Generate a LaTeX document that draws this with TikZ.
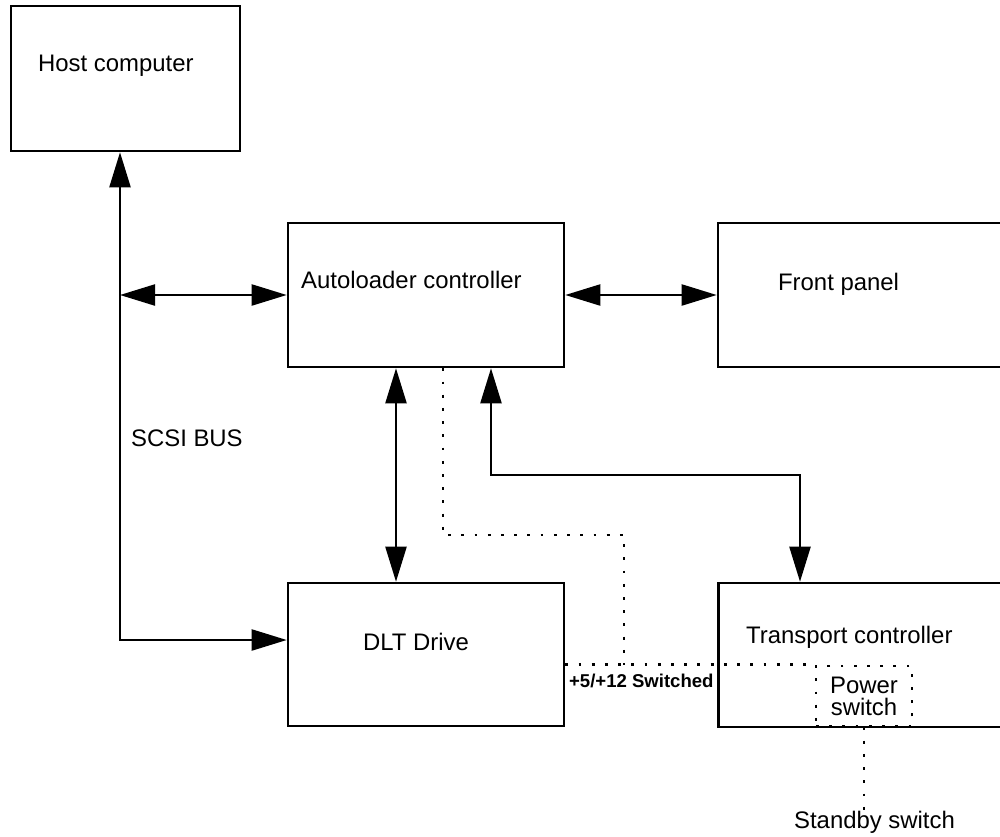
\documentclass[tikz,border=0pt]{standalone}
\usepackage{fontspec}
\setmainfont{Liberation Sans}
\usetikzlibrary{arrows.meta}

\begin{document}
\begin{tikzpicture}[x=0.025cm,y=-0.025cm,line width=1.6pt,
	>={Triangle[length=25pt,width=15pt]},
	block/.style={draw,rectangle,line width=1.8pt,inner sep=0pt},
	txt/.style={anchor=base west,inner sep=0pt,font=\fontsize{17}{19}\selectfont},
	dotline/.style={line width=2.1pt,dash pattern=on 2pt off 7.4pt}]

	\useasboundingbox (0,0) rectangle (1000,836);
	\clip (0,0) rectangle (1000,836);

	% boxes
	\node[block,minimum width=5.725cm,minimum height=3.625cm] (host) at (125.5,78.5) {};
	\node[block,minimum width=6.9cm,minimum height=3.6cm] (auto) at (426,295) {};
	\node[block,minimum width=7.8cm,minimum height=3.6cm] (front) at (874,295) {};
	\node[block,minimum width=6.9cm,minimum height=3.575cm] (dlt) at (426,654.5) {};
	\node[block,minimum width=7.8cm,minimum height=3.6cm] (trans) at (874.5,655) {};
	\node[block,dotline,minimum width=2.4cm,minimum height=1.5cm,align=center,
		font=\fontsize{17}{15.5}\selectfont] (power) at (864,696) {Power\\switch};

	% texts
	\node[txt] (hosttxt) at (37,71) {Host computer};
	\node[txt] (autotxt) at (300,288) {Autoloader controller};
	\node[txt] (fronttxt) at (777,290) {Front panel};
	\node[txt] (dlttxt) at (362,650) {DLT Drive};
	\node[txt] (transtxt) at (745,643) {Transport controller};
	\node[txt] (bustxt) at (130,446) {SCSI BUS};
	\node[txt] (standby) at (793,828) {Standby switch};
	\node[txt,font=\fontsize{13.2}{15}\selectfont\bfseries] (swtxt) at (568,687) {+5/+12 Switched};

	% bends
	\coordinate (bus) at (120,295);
	\coordinate (busend) at (120,640);
	\coordinate (ad) at (396,0);
	\coordinate (at1) at (491,475);
	\coordinate (at2) at (800,475);
	\coordinate (pw1) at (443,535);
	\coordinate (pw2) at (624,535);

	% links
	\draw[<->] (host.south -| bus) -- (busend) -- (dlt.west |- busend);
	\draw[<->] (bus) -- (auto.west);
	\draw[<->] (auto.east) -- (front.west);
	\draw[<->] (auto.south -| ad) -- (dlt.north -| ad);
	\draw[<->] (at1 |- auto.south) -- (at1) -- (at2) -- (at2 |- trans.north);

	% power lines
	\draw[dotline] (pw1 |- auto.south) -- (pw1) -- (pw2) -- (pw2 |- power.north);
	\draw[dotline] (dlt.east |- power.north) -- (power.north west);
	\draw[dotline] (power.south) -- (power.south |- standby.north);
\end{tikzpicture}
\end{document}
